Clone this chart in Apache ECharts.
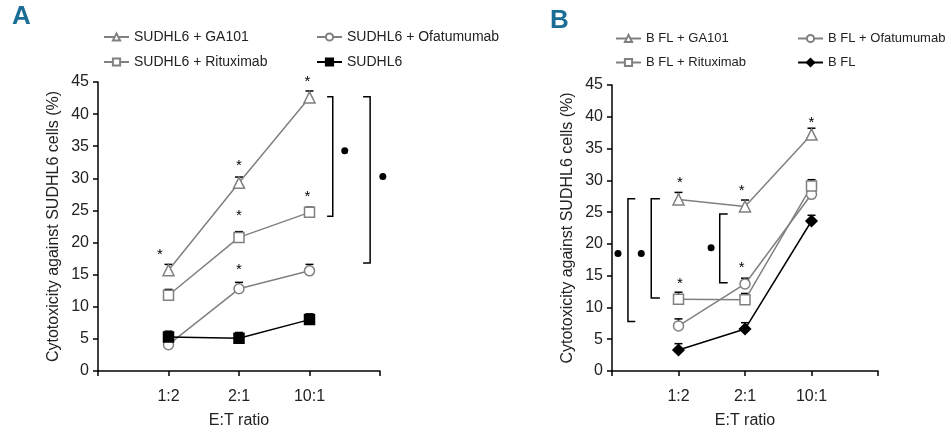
<!DOCTYPE html>
<html>
<head>
<meta charset="utf-8">
<script src="https://cdn.jsdelivr.net/npm/echarts@6/dist/echarts.min.js"></script>
<style>html,body{margin:0;padding:0;background:#fff;}#c{width:951px;height:434px;}</style>
</head>
<body>
<div id="c"></div>
<script>
// ---- data ----
const categories = ['1:2', '2:1', '10:1'];
const yTitle = 'Cytotoxicity against SUDHL6 cells (%)';
const xTitle = 'E:T ratio';

// Panel A
const namesA = ['SUDHL6 + GA101', 'SUDHL6 + Ofatumumab', 'SUDHL6 + Rituximab', 'SUDHL6'];
const gaA = [15.7, 29.3, 42.6];
const gaAErr = [0.9, 0.9, 1.0];
const rituxA = [11.8, 20.8, 24.7];
const rituxAErr = [0.9, 0.9, 0.8];
const ofaA = [4.1, 12.8, 15.6];
const ofaAErr = [0.8, 1.0, 1.0];
const ctrlA = [5.3, 5.1, 8.0];
const ctrlAErr = [0.9, 0.9, 0.9];
const starsA = [[0.88, 18.7], [2, 32.5], [2, 24.8], [2, 16.4], [2.97, 45.6], [2.97, 27.7]];
// bracket: [x of vertical, x of arm end, y top, y bottom]
const bracketsA = [[3.33, 3.25, 42.7, 24.1], [3.86, 3.76, 42.7, 16.8]];
const dotsA = [[3.50, 34.3], [4.04, 30.3]];

// Panel B
const namesB = ['B FL + GA101', 'B FL + Ofatumumab', 'B FL + Rituximab', 'B FL'];
const gaB = [27.0, 25.9, 37.2];
const gaBErr = [1.1, 1.0, 1.0];
const rituxB = [11.3, 11.2, 29.1];
const rituxBErr = [1.1, 1.0, 1.0];
const ofaB = [7.1, 13.7, 27.8];
const ofaBErr = [1.1, 0.9, 0.9];
const ctrlB = [3.3, 6.6, 23.6];
const ctrlBErr = [1.0, 1.0, 0.9];
const starsB = [[1.02, 30.2], [1.02, 14.4], [1.95, 28.9], [1.95, 16.9], [3.0, 39.7]];
const bracketsB = [[0.24, 0.35, 27.1, 7.8], [0.59, 0.72, 27.1, 11.5], [1.62, 1.74, 24.7, 13.9]];
const dotsB = [[0.09, 18.5], [0.44, 18.5], [1.49, 19.4]];

// ---- build ----
const FONT = "'Liberation Sans', Arial, sans-serif";
const GRAY = '#808080';
const TXT = '#222';
const pts = arr => arr.map((v, i) => [i + 1, v]);
const errPts = (vals, errs) => vals.map((v, i) => [i + 1, v, errs[i]]);

function lineSeries(name, vals, idx, symbol, filled, dark) {
  const c = dark ? '#000' : GRAY;
  return {
    name: name, type: 'line', xAxisIndex: idx, yAxisIndex: idx,
    data: pts(vals), symbol: symbol,
    symbolSize: symbol === 'triangle' ? 11 : (symbol === 'diamond' ? 11 : 10),
    showAllSymbol: true,
    lineStyle: { color: c, width: 1.5 },
    itemStyle: { color: filled ? c : '#fff', borderColor: c, borderWidth: 1.5 },
    z: dark ? 5 : 4, animation: false
  };
}
function errSeries(vals, errs, idx) {
  return {
    type: 'custom', xAxisIndex: idx, yAxisIndex: idx, data: errPts(vals, errs), z: 3,
    silent: true, animation: false,
    renderItem: function (params, api) {
      const p0 = api.coord([api.value(0), api.value(1)]);
      const p1 = api.coord([api.value(0), api.value(1) + api.value(2)]);
      const st = { stroke: '#000', lineWidth: 1.5 };
      return { type: 'group', children: [
        { type: 'line', shape: { x1: p0[0], y1: p0[1], x2: p1[0], y2: p1[1] }, style: st },
        { type: 'line', shape: { x1: p1[0] - 4, y1: p1[1], x2: p1[0] + 4, y2: p1[1] }, style: st }
      ] };
    }
  };
}
function starSeries(data, idx) {
  return {
    type: 'custom', xAxisIndex: idx, yAxisIndex: idx, data: data, z: 6, silent: true, animation: false,
    renderItem: function (params, api) {
      const p = api.coord([api.value(0), api.value(1)]);
      return { type: 'text', x: p[0], y: p[1] + 4,
        style: { text: '*', fontSize: 15, fontFamily: FONT, fill: '#000', align: 'center', verticalAlign: 'middle' } };
    }
  };
}
function bracketSeries(data, idx) {
  return {
    type: 'custom', xAxisIndex: idx, yAxisIndex: idx, data: data, z: 6, silent: true, animation: false,
    renderItem: function (params, api) {
      const a = api.coord([api.value(1), api.value(2)]);
      const b = api.coord([api.value(0), api.value(2)]);
      const c = api.coord([api.value(0), api.value(3)]);
      const d = api.coord([api.value(1), api.value(3)]);
      return { type: 'polyline', shape: { points: [a, b, c, d] }, style: { stroke: '#000', lineWidth: 1.5, fill: null } };
    }
  };
}
function dotSeries(data, idx) {
  return { type: 'scatter', xAxisIndex: idx, yAxisIndex: idx, data: data, symbol: 'circle', symbolSize: 7,
    itemStyle: { color: '#000', opacity: 1 }, clip: false, z: 6, silent: true, animation: false };
}

function xAxis(idx) {
  return {
    type: 'value', gridIndex: idx, min: 0, max: 4, interval: 1,
    name: xTitle, nameLocation: 'middle', nameGap: 42,
    nameTextStyle: { fontSize: 16, color: TXT, fontFamily: FONT },
    axisLine: { show: true, onZero: false, lineStyle: { color: '#000', width: 1.5 } },
    axisTick: { show: true, length: 5, lineStyle: { color: '#000', width: 1.5 } },
    axisLabel: { fontSize: 16, color: TXT, fontFamily: FONT, margin: 18,
      formatter: v => (v >= 1 && v <= 3) ? categories[v - 1] : '' },
    splitLine: { show: false }
  };
}
function yAxis(idx) {
  return {
    type: 'value', gridIndex: idx, min: 0, max: 45, interval: 5,
    name: yTitle, nameLocation: 'middle', nameGap: 36, nameRotate: 90,
    nameTextStyle: { fontSize: 16, color: TXT, fontFamily: FONT },
    axisLine: { show: true, lineStyle: { color: '#000', width: 1.5 } },
    axisTick: { show: true, length: 5, lineStyle: { color: '#000', width: 1.5 } },
    axisLabel: { fontSize: 16, color: TXT, fontFamily: FONT, margin: 9 },
    splitLine: { show: false }
  };
}
function legend(name, left, top, fs) {
  return { data: [name], left: left, top: top, padding: 0, itemWidth: 25, itemHeight: 9, itemGap: 0,
    textStyle: { fontSize: fs, color: TXT, fontFamily: FONT }, selectedMode: false };
}

const option = {
  backgroundColor: '#fff',
  animation: false,
  textStyle: { fontFamily: FONT },
  title: [
    { text: 'A', left: 12, top: 4, padding: 0, textStyle: { fontSize: 26, fontWeight: 'bold', color: '#1a6d95', fontFamily: FONT } },
    { text: 'B', left: 550, top: 8, padding: 0, textStyle: { fontSize: 26, fontWeight: 'bold', color: '#1a6d95', fontFamily: FONT } }
  ],
  legend: [
    legend(namesA[0], 103, 30, 14), legend(namesA[1], 316, 30, 14),
    legend(namesA[2], 103, 55, 14), legend(namesA[3], 316, 55, 14),
    legend(namesB[0], 615, 32, 13), legend(namesB[1], 797, 32, 13),
    legend(namesB[2], 615, 56, 13), legend(namesB[3], 797, 56, 13)
  ],
  grid: [
    { left: 98, top: 82, width: 282, height: 291 },
    { left: 612, top: 85, width: 266, height: 290 }
  ],
  xAxis: [xAxis(0), xAxis(1)],
  yAxis: [yAxis(0), yAxis(1)],
  series: [
    errSeries(gaA, gaAErr, 0), errSeries(rituxA, rituxAErr, 0), errSeries(ofaA, ofaAErr, 0), errSeries(ctrlA, ctrlAErr, 0),
    lineSeries(namesA[0], gaA, 0, 'triangle', false, false),
    lineSeries(namesA[1], ofaA, 0, 'circle', false, false),
    lineSeries(namesA[2], rituxA, 0, 'rect', false, false),
    lineSeries(namesA[3], ctrlA, 0, 'rect', true, true),
    starSeries(starsA, 0), bracketSeries(bracketsA, 0), dotSeries(dotsA, 0),

    errSeries(gaB, gaBErr, 1), errSeries(rituxB, rituxBErr, 1), errSeries(ofaB, ofaBErr, 1), errSeries(ctrlB, ctrlBErr, 1),
    lineSeries(namesB[0], gaB, 1, 'triangle', false, false),
    lineSeries(namesB[1], ofaB, 1, 'circle', false, false),
    lineSeries(namesB[2], rituxB, 1, 'rect', false, false),
    lineSeries(namesB[3], ctrlB, 1, 'diamond', true, true),
    starSeries(starsB, 1), bracketSeries(bracketsB, 1), dotSeries(dotsB, 1)
  ]
};
const chart = echarts.init(document.getElementById('c'), null, { renderer: 'canvas' });
chart.setOption(option);
</script>
</body>
</html>
